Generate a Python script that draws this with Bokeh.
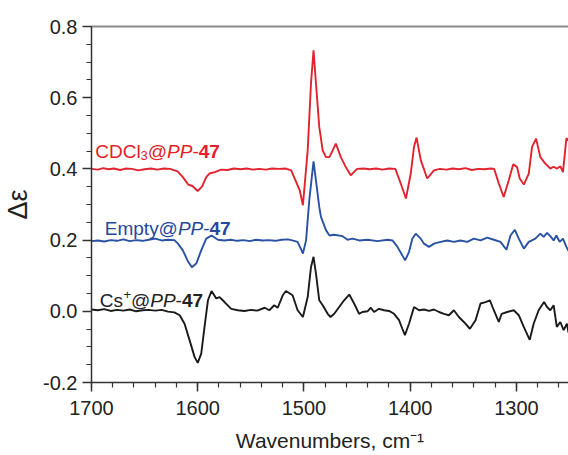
from bokeh.plotting import figure
from bokeh.models import Range1d, FixedTicker, NumeralTickFormatter, LinearAxis, Label
from bokeh.embed import file_html
from bokeh.resources import INLINE

# ---------------- data ----------------
wn_cdcl3 = [1700, 1694, 1689, 1684, 1679, 1673, 1668, 1662, 1656, 1650, 1644, 1638, 1632, 1626,
            1619, 1614, 1609, 1605, 1600, 1596, 1592, 1589, 1584, 1578, 1572, 1566, 1560, 1554,
            1548, 1542, 1536, 1530, 1524, 1517, 1512, 1508, 1504, 1501, 1496.5, 1493.4, 1491,
            1488.7, 1485.6, 1482.4, 1479.3, 1476, 1470, 1465.3, 1460.6, 1456, 1450, 1444, 1438,
            1432, 1426, 1420, 1414, 1408.9, 1404, 1399.5, 1396.4, 1394, 1390, 1384, 1377.6, 1372,
            1366, 1360, 1354, 1348, 1342, 1336, 1330, 1324, 1321, 1316.6, 1312, 1307.2, 1303,
            1299.4, 1296.9, 1293, 1288.4, 1285.3, 1281.5, 1277.5, 1272.8, 1268.1, 1265, 1261.8,
            1258.7, 1256.2, 1253, 1251]
de_cdcl3 = [0.400, 0.398, 0.402, 0.399, 0.401, 0.397, 0.401, 0.400, 0.396, 0.399, 0.401, 0.398,
            0.401, 0.400, 0.393, 0.377, 0.356, 0.352, 0.338, 0.350, 0.377, 0.387, 0.391, 0.398,
            0.397, 0.401, 0.399, 0.401, 0.398, 0.400, 0.398, 0.401, 0.400, 0.401, 0.396, 0.368,
            0.340, 0.298, 0.452, 0.640, 0.733, 0.640, 0.518, 0.452, 0.433, 0.433, 0.471, 0.433,
            0.405, 0.382, 0.400, 0.401, 0.399, 0.401, 0.398, 0.401, 0.400, 0.359, 0.317, 0.387,
            0.462, 0.488, 0.424, 0.373, 0.396, 0.400, 0.398, 0.401, 0.399, 0.402, 0.397, 0.400,
            0.399, 0.401, 0.400, 0.359, 0.321, 0.368, 0.413, 0.405, 0.373, 0.356, 0.387, 0.462,
            0.485, 0.433, 0.415, 0.401, 0.406, 0.401, 0.407, 0.391, 0.486, 0.480]

wn_empty = [1700, 1694, 1688, 1682, 1676, 1670, 1664, 1658, 1652, 1646, 1640, 1634, 1628, 1622,
            1618.6, 1614, 1609, 1605.5, 1601.4, 1596.7, 1592, 1587, 1581, 1575, 1569, 1563, 1557,
            1551, 1545, 1539, 1533, 1527, 1521, 1515, 1512, 1506, 1503, 1501, 1498, 1496.5, 1495,
            1491, 1485.6, 1484, 1479.3, 1476, 1471.5, 1463.7, 1459, 1454.3, 1448, 1440.2, 1430.8,
            1421.4, 1416.7, 1412, 1407.4, 1404.8, 1401.1, 1398, 1394.8, 1390.1, 1387, 1382.3,
            1377.6, 1371.4, 1365.1, 1358.9, 1352.6, 1346.3, 1340.1, 1333.8, 1327.5, 1321.3, 1315,
            1309.4, 1305.6, 1301.5, 1297.8, 1293, 1288.4, 1282.2, 1277.5, 1274.4, 1271.2, 1268.1,
            1265, 1262.4, 1259.3, 1256.2, 1253, 1251]
de_empty = [0.197, 0.199, 0.196, 0.200, 0.198, 0.202, 0.197, 0.200, 0.198, 0.201, 0.204, 0.199,
            0.201, 0.200, 0.190, 0.171, 0.139, 0.124, 0.134, 0.171, 0.204, 0.213, 0.201, 0.199,
            0.201, 0.198, 0.200, 0.197, 0.201, 0.199, 0.200, 0.198, 0.201, 0.202, 0.200, 0.195,
            0.176, 0.162, 0.200, 0.256, 0.312, 0.421, 0.293, 0.265, 0.228, 0.213, 0.215, 0.211,
            0.201, 0.204, 0.199, 0.201, 0.197, 0.201, 0.199, 0.181, 0.157, 0.143, 0.167, 0.204,
            0.218, 0.204, 0.190, 0.181, 0.190, 0.195, 0.199, 0.195, 0.199, 0.195, 0.204, 0.199,
            0.207, 0.201, 0.195, 0.173, 0.213, 0.229, 0.204, 0.176, 0.195, 0.204, 0.218, 0.209,
            0.220, 0.211, 0.199, 0.213, 0.195, 0.204, 0.181, 0.170]

wn_cs = [1700, 1694, 1688, 1682, 1676, 1670, 1664, 1658, 1652, 1646, 1640, 1634, 1628, 1622,
         1617, 1612.4, 1607.7, 1603, 1600, 1596.7, 1593.6, 1590.4, 1587, 1582.6, 1579.5, 1574.8,
         1568.5, 1562.3, 1556, 1550, 1544, 1537, 1532.6, 1528, 1524.7, 1520, 1517, 1510.7, 1506,
         1501, 1496.5, 1493.4, 1491, 1488.7, 1485.6, 1482.4, 1477.7, 1475, 1471.5, 1466.9,
         1462.2, 1457.4, 1452.8, 1448.1, 1445, 1440.2, 1437.1, 1434, 1429.3, 1424.6, 1419.9,
         1415.2, 1410.5, 1407.4, 1405, 1401.1, 1396.4, 1391.7, 1387, 1382.3, 1377.6, 1372.9,
         1368.2, 1363.6, 1358.9, 1354.2, 1349.5, 1343.8, 1338.5, 1333.8, 1329.1, 1325, 1321.3,
         1316.6, 1313.9, 1308.7, 1302.5, 1297.8, 1293.1, 1287.5, 1283.8, 1279.1, 1274, 1271.2,
         1268.1, 1265, 1262, 1258.7, 1255.6, 1252.5, 1251]
de_cs = [0.005, 0.003, 0.006, 0.001, 0.004, 0.002, 0.005, 0.000, 0.003, 0.004, 0.002, 0.004,
         -0.001, -0.003, -0.011, -0.035, -0.081, -0.128, -0.145, -0.119, -0.044, 0.031, 0.057,
         0.036, 0.040, 0.026, 0.007, 0.003, 0.001, 0.004, 0.002, 0.010, 0.003, 0.017, 0.010,
         0.045, 0.057, 0.045, 0.003, -0.016, 0.040, 0.124, 0.153, 0.106, 0.031, 0.017, -0.007,
         -0.016, -0.007, 0.012, 0.031, 0.047, 0.022, -0.007, -0.002, 0.000, 0.010, -0.002,
         0.007, 0.003, 0.001, -0.007, -0.025, -0.049, -0.067, -0.035, 0.012, 0.003, 0.005,
         0.001, 0.005, -0.002, -0.007, -0.011, 0.003, -0.016, -0.030, -0.049, -0.025, 0.022,
         0.026, 0.031, 0.003, -0.030, -0.007, -0.002, 0.003, -0.011, -0.044, -0.080, -0.035,
         0.003, 0.026, 0.012, 0.003, 0.017, -0.044, -0.030, -0.053, -0.035, -0.060]

x_ticks = [1700, 1600, 1500, 1400, 1300]
y_ticks = [-0.2, 0.0, 0.2, 0.4, 0.6, 0.8]

RED = "#e2232e"
BLUE = "#2a52a2"
BLACK = "#1a1a1a"
FONT = "Liberation Sans"

p = figure(width=568, height=454, output_backend="svg", toolbar_location=None,
           x_range=Range1d(1700, 1251), y_range=Range1d(-0.2, 0.8),
           min_border_left=90, min_border_right=0, min_border_top=26, min_border_bottom=72)
p.outline_line_color = None
p.grid.visible = False

for ax in (p.xaxis[0], p.yaxis[0]):
    ax.axis_line_color = "#333333"
    ax.axis_line_width = 1.5
    ax.major_tick_line_color = "#333333"
    ax.major_tick_line_width = 1.5
    ax.minor_tick_line_color = "#333333"
    ax.minor_tick_line_width = 1.2
    ax.major_tick_in = 0
    ax.major_tick_out = 9
    ax.minor_tick_in = 0
    ax.minor_tick_out = 5
    ax.major_label_text_font = FONT
    ax.major_label_text_font_size = "20px"
    ax.major_label_text_color = "#222222"
    ax.axis_label_text_font = FONT
    ax.axis_label_text_font_style = "normal"
    ax.axis_label_text_color = "#222222"

p.xaxis.ticker = FixedTicker(ticks=x_ticks,
                             minor_ticks=[1700 - 20 * i for i in range(23)])
p.yaxis.ticker = FixedTicker(ticks=y_ticks,
                             minor_ticks=[round(-0.2 + 0.05 * i, 2) for i in range(21)])
p.yaxis.formatter = NumeralTickFormatter(format="0.0")
p.xaxis.major_label_standoff = 9
p.yaxis.major_label_standoff = 5

p.xaxis.axis_label = "Wavenumbers, cm\u207b\u00b9"
p.xaxis.axis_label_text_font_size = "21px"
p.xaxis.axis_label_standoff = 11
p.yaxis.axis_label = "Δε"
p.yaxis.axis_label_text_font_size = "27px"
p.yaxis.axis_label_standoff = 7

top = LinearAxis(ticker=FixedTicker(ticks=[]), axis_line_color="#8a8a8a", axis_line_width=2,
                 major_label_text_font_size="0px", major_tick_line_color=None,
                 minor_tick_line_color=None)
p.add_layout(top, "above")

p.line(wn_cdcl3, de_cdcl3, line_color=RED, line_width=1.9)
p.line(wn_empty, de_empty, line_color=BLUE, line_width=1.9)
p.line(wn_cs, de_cs, line_color=BLACK, line_width=1.9)


def rich(x, y, pieces, color):
    for text, style, size, dx, dy in pieces:
        p.add_layout(Label(x=x, y=y, x_offset=dx, y_offset=dy, text=text,
                           text_font=FONT, text_font_style=style, text_font_size=size,
                           text_color=color, text_baseline="alphabetic", text_align="left"))


rich(1696.5, 0.4475, [("CDCl", "normal", "19px", 0, 0),
                      ("3", "normal", "13px", 45.4, -4),
                      ("@", "normal", "19px", 52.6, 0),
                      ("PP", "italic", "19px", 71.9, 0),
                      ("-", "normal", "19px", 97.2, 0),
                      ("47", "bold", "19px", 103.5, 0)], "#e4202a")
rich(1687.5, 0.232, [("Empty", "normal", "19px", 0, 0),
                     ("@", "normal", "19px", 53.8, 0),
                     ("PP", "italic", "19px", 73.1, 0),
                     ("-", "normal", "19px", 98.4, 0),
                     ("47", "bold", "19px", 104.7, 0)], "#27479b")
rich(1692.2, 0.031, [("Cs", "normal", "19px", 0, 0),
                     ("+", "normal", "13px", 23.6, 6),
                     ("@", "normal", "19px", 31.2, 0),
                     ("PP", "italic", "19px", 50.5, 0),
                     ("-", "normal", "19px", 75.8, 0),
                     ("47", "bold", "19px", 82.1, 0)], "#222222")

open("out.html", "w").write(file_html(p, INLINE))
